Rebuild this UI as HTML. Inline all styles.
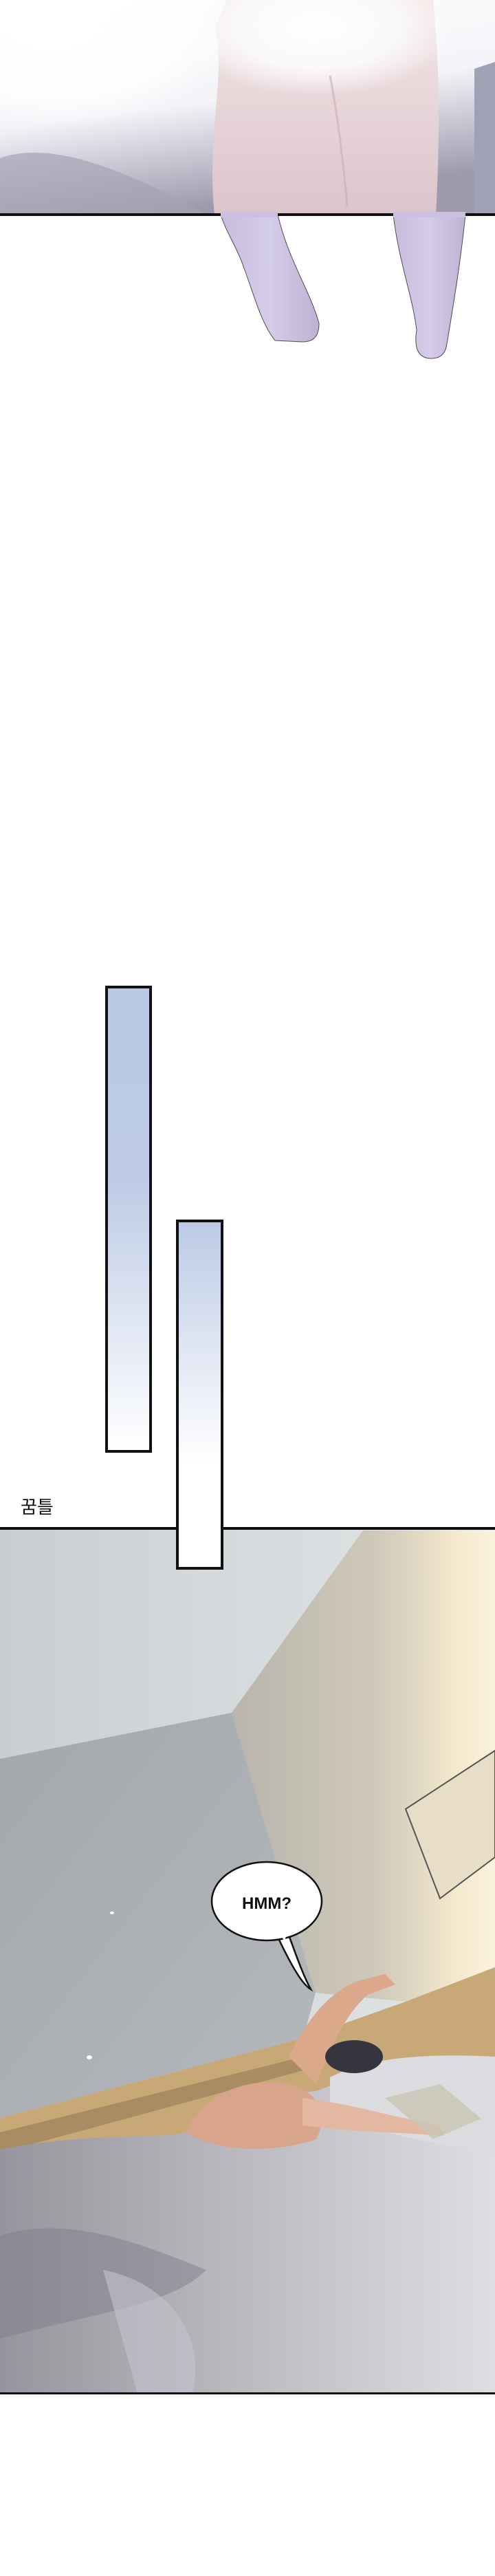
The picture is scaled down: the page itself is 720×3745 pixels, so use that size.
<!DOCTYPE html>
<html><head><meta charset="utf-8">
<style>
html,body{margin:0;padding:0;background:#fff;}
body{width:720px;height:3745px;position:relative;overflow:hidden;font-family:"Liberation Sans","Noto Sans CJK KR",sans-serif;}
svg{position:absolute;left:0;top:0;}
</style></head>
<body>
<svg width="720" height="3745" viewBox="0 0 720 3745">
<defs>
<linearGradient id="topbg" x1="0" y1="0" x2="0.3" y2="1">
<stop offset="0" stop-color="#ffffff"/><stop offset="0.55" stop-color="#f4f3f8"/><stop offset="1" stop-color="#9d9aad"/>
</linearGradient>
<radialGradient id="whiteglow" cx="0.2" cy="0.2" r="0.6">
<stop offset="0" stop-color="#fff"/><stop offset="0.7" stop-color="#fff" stop-opacity="0.8"/><stop offset="1" stop-color="#fff" stop-opacity="0"/>
</radialGradient>
<radialGradient id="topglow" cx="0.5" cy="0.5" r="0.5">
<stop offset="0" stop-color="#fff"/><stop offset="0.6" stop-color="#fbfbfb" stop-opacity="0.9"/><stop offset="1" stop-color="#fff" stop-opacity="0"/>
</radialGradient>
<linearGradient id="torso" x1="0" y1="0" x2="0" y2="1">
<stop offset="0" stop-color="#f3e6e6"/><stop offset="1" stop-color="#dcc4cb"/>
</linearGradient>
<linearGradient id="leg" x1="0" y1="0" x2="1" y2="0">
<stop offset="0" stop-color="#c7bcdc"/><stop offset="0.5" stop-color="#d4cdea"/><stop offset="1" stop-color="#bdb2d2"/>
</linearGradient>
<linearGradient id="blue" x1="0" y1="0" x2="0" y2="1">
<stop offset="0" stop-color="#b9c9e5"/><stop offset="0.4" stop-color="#bccae5"/><stop offset="1" stop-color="#ffffff"/>
</linearGradient>
<linearGradient id="blue2" x1="0" y1="0" x2="0" y2="1">
<stop offset="0" stop-color="#bccae5"/><stop offset="0.7" stop-color="#ffffff"/><stop offset="1" stop-color="#ffffff"/>
</linearGradient>
<linearGradient id="ceil" x1="0" y1="0" x2="1" y2="0">
<stop offset="0" stop-color="#c9ced3"/><stop offset="1" stop-color="#e2e6e6"/>
</linearGradient>
<linearGradient id="rwall" x1="0" y1="0" x2="1" y2="0">
<stop offset="0" stop-color="#b9b5ab"/><stop offset="0.55" stop-color="#cfc9bb"/><stop offset="0.85" stop-color="#f4e8cc"/><stop offset="1" stop-color="#fbf2de"/>
</linearGradient>
<linearGradient id="lwall" x1="0" y1="0" x2="1" y2="1">
<stop offset="0" stop-color="#a4a8ad"/><stop offset="1" stop-color="#b4b8bc"/>
</linearGradient>
<linearGradient id="blanket" x1="0" y1="0" x2="1" y2="0">
<stop offset="0" stop-color="#96959d"/><stop offset="0.45" stop-color="#b8b7be"/><stop offset="1" stop-color="#dedee2"/>
</linearGradient>
</defs>

<!-- TOP PANEL -->
<g>
<rect x="0" y="0" width="720" height="312" fill="url(#topbg)"/>
<path d="M0,230 C80,200 200,260 260,290 L300,312 L0,312Z" fill="#a6a3b6" opacity="0.7"/>
<path d="M312,40 C330,100 300,200 312,312 L634,312 C640,200 640,100 630,0 L330,0Z" fill="url(#torso)"/>
<path d="M690,100 L720,90 L720,312 L690,312Z" fill="#9fa2b4"/>
<rect x="0" y="0" width="420" height="230" fill="url(#whiteglow)"/>
<ellipse cx="460" cy="40" rx="200" ry="100" fill="url(#topglow)"/>
<path d="M480,110 C490,160 500,240 505,300" stroke="#c8aeb4" stroke-width="3" fill="none" opacity="0.6"/>
<path d="M321,312 L404,312 C420,380 450,420 464,470 C464,490 455,497 440,497 L400,495 C380,470 370,430 355,390 C345,360 330,340 321,312Z" fill="url(#leg)" stroke="#5a4650" stroke-width="1"/>
<path d="M572,312 L677,312 C670,380 660,440 650,500 C648,515 640,522 625,521 C608,520 602,505 606,480 C600,430 580,380 572,312Z" fill="url(#leg)" stroke="#5a4650" stroke-width="1"/>
<rect x="0" y="310" width="720" height="4" fill="#111"/>
<rect x="321" y="308" width="83" height="8" fill="#cbc1df"/>
<rect x="572" y="308" width="105" height="8" fill="#cbc1df"/>
</g>

<!-- BLUE STRIPS -->
<rect x="155" y="1435" width="64" height="675" fill="url(#blue)" stroke="#111" stroke-width="4"/>
<text x="30" y="2200" font-size="26" fill="#111" font-family="'Liberation Sans','Noto Sans CJK KR',sans-serif">꿈틀</text>

<!-- BOTTOM PANEL -->
<g>
<rect x="0" y="2222" width="720" height="1258" fill="url(#ceil)"/>
<polygon points="0,2557 337,2490 459,2897 441,2963 0,3079" fill="url(#lwall)"/>
<polygon points="337,2490 528,2225 720,2225 720,2860 590,2910 459,2897" fill="url(#rwall)"/>
<polygon points="590,2630 720,2545 720,2700 640,2760" fill="#e8ddc6" stroke="#555" stroke-width="2"/>
<polygon points="0,3079 441,2963 590,2910 720,2860 720,3000 0,3180" fill="#c9a878"/>
<polygon points="0,3100 441,2990 441,3010 0,3130" fill="#a98c62"/>
<path d="M0,3125 C120,3100 230,3110 270,3100 L330,3050 L460,3040 L540,3010 L720,2990 L720,3480 L0,3480Z" fill="url(#blanket)"/>
<path d="M480,3020 C540,2990 620,2985 720,2990 L720,3130 C640,3120 560,3100 480,3080Z" fill="#dcdce0"/>
<path d="M0,3250 C100,3220 200,3260 300,3300 C250,3350 150,3360 0,3400Z" fill="#7f7e87" opacity="0.5"/>
<path d="M150,3300 C250,3320 300,3400 280,3480 L200,3480Z" fill="#c4c3cb" opacity="0.6"/>
<path d="M270,3100 C300,3040 360,3020 420,3030 C460,3040 480,3070 460,3110 C400,3130 320,3130 270,3100Z" fill="#d8a58c"/>
<path d="M440,3050 C520,3060 580,3080 640,3090 L645,3105 C580,3100 520,3100 440,3090Z" fill="#e4b8a0"/>
<path d="M420,2990 C440,2950 470,2900 520,2880 L560,2870 L575,2885 L535,2900 C500,2930 480,2980 460,3030Z" fill="#dba88c"/>
<ellipse cx="515" cy="2990" rx="42" ry="24" fill="#34353f"/>
<polygon points="560,3050 640,3030 700,3080 630,3110" fill="#c7c6b4" opacity="0.8"/>
<ellipse cx="163" cy="2781" rx="3" ry="2" fill="#fff"/>
<ellipse cx="130" cy="2991" rx="4" ry="3" fill="#fff"/>
<rect x="0" y="2220" width="720" height="4" fill="#111"/>
<rect x="0" y="3478" width="720" height="3" fill="#111"/>
</g>
<g>
<path d="M418,2808 C430,2840 440,2870 452,2892 C440,2885 425,2860 405,2818Z" fill="#fff" stroke="#111" stroke-width="2.5"/>
<ellipse cx="388" cy="2764" rx="80" ry="57" fill="#fff" stroke="#111" stroke-width="2.5"/>
<path d="M407,2812 L418,2808 L414,2822Z" fill="#fff"/>
<text x="388" y="2775" text-anchor="middle" font-size="24" font-weight="bold" fill="#111" font-family="'Liberation Sans',sans-serif">HMM?</text>
</g>
<rect x="258" y="1775" width="65" height="505" fill="url(#blue2)" stroke="#111" stroke-width="4"/>
</svg>
</body></html>
